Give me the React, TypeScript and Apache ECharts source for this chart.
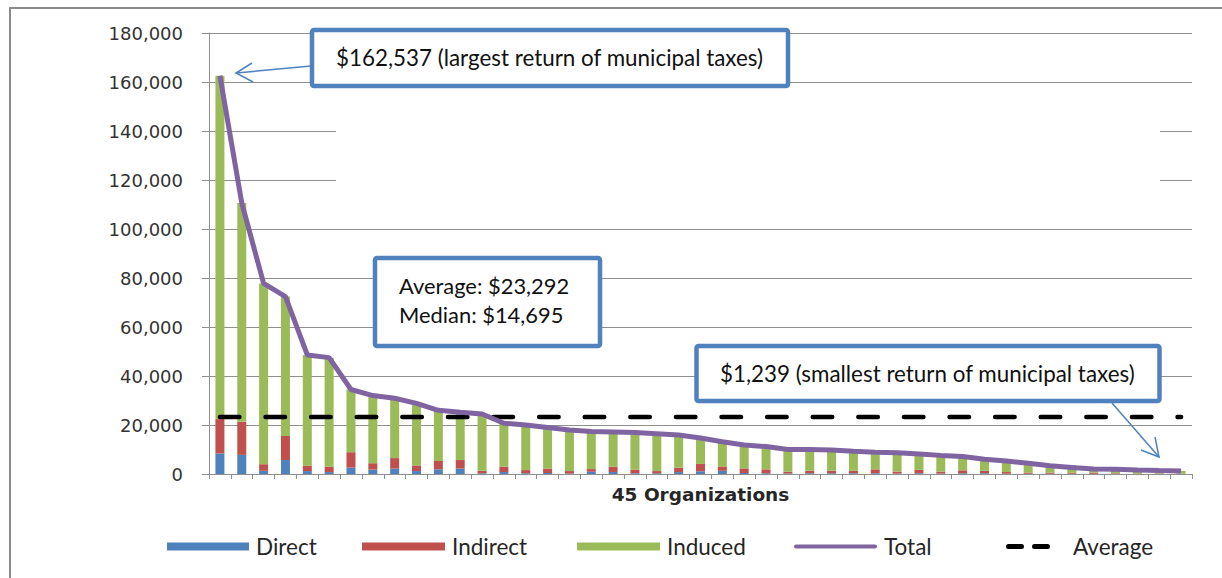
import React, { useEffect, useRef } from 'react';
import * as echarts from 'echarts';

const organizations = [
  '1', '2', '3', '4', '5', '6', '7', '8', '9', '10',
  '11', '12', '13', '14', '15', '16', '17', '18', '19', '20',
  '21', '22', '23', '24', '25', '26', '27', '28', '29', '30',
  '31', '32', '33', '34', '35', '36', '37', '38', '39', '40',
  '41', '42', '43', '44', '45',
];

const direct = [
  8400, 7800, 1300, 5700, 1200, 800, 2600, 1800, 2200, 1200,
  1900, 2200, 300, 800, 300, 400, 200, 900, 800, 300,
  300, 800, 1100, 1300, 400, 300, 200, 300, 300, 300,
  300, 200, 300, 200, 300, 300, 100, 100, 100, 100,
  100, 50, 50, 50, 30,
];

const indirect = [
  14000, 13500, 2700, 9800, 2200, 2200, 6300, 2600, 4300, 2300,
  3400, 3500, 1000, 2200, 1300, 1800, 1000, 1100, 2200, 1500,
  900, 1800, 3000, 1800, 1900, 1600, 700, 1000, 1000, 1000,
  1600, 800, 1400, 800, 1200, 1000, 700, 500, 500, 400,
  500, 250, 150, 150, 100,
];

const induced = [
  140137, 89300, 73800, 56900, 45200, 44500, 25600, 27600, 24400, 25300,
  20700, 19500, 23200, 17700, 18400, 16800, 16800, 15300, 14100, 15100,
  15200, 13300, 10595, 10100, 9500, 9300, 9100, 8700, 8500, 8000,
  7000, 7700, 6500, 6600, 5600, 4700, 4500, 3800, 2800, 2200,
  1400, 1600, 1400, 1200, 1109,
];

const total = [
  162537, 110600, 77800, 72400, 48600, 47500, 34500, 32000, 30900, 28800,
  26000, 25200, 24500, 20700, 20000, 19000, 18000, 17300, 17100, 16900,
  16400, 15900, 14695, 13200, 11800, 11200, 10000, 10000, 9800, 9300,
  8900, 8700, 8200, 7600, 7100, 6000, 5300, 4400, 3400, 2700,
  2000, 1900, 1600, 1400, 1239,
];

const AVERAGE = 23292;
const averageLine = organizations.map(() => AVERAGE);

const calloutTexts = [
  '$162,537 (largest return of municipal taxes)',
  'Average: $23,292',
  'Median: $14,695',
  '$1,239 (smallest return of municipal taxes)',
];

const BLUE = '#4F81BD';
const RED = '#C0504D';
const GREEN = '#9BBB59';
const PURPLE = '#8064A2';
const GRID_GRAY = '#8f8f8f';
const CALLOUT_FONT = 'Lato';

export default function App() {
  const ref = useRef<HTMLDivElement>(null);

  useEffect(() => {
    if (!ref.current) return;
    const chart = echarts.init(ref.current, null, { renderer: 'svg' });

    const legendText = {
      fontFamily: CALLOUT_FONT,
      fontSize: 22.5,
      color: '#262626',
      padding: [0, 0, 0, 2],
    };
    const legendBase = {
      orient: 'horizontal',
      top: 530,
      itemHeight: 8,
      selectedMode: false,
      textStyle: legendText,
    };

    const option: any = {
      animation: false,
      backgroundColor: '#ffffff',
      grid: { left: 209, right: 30, top: 33, bottom: 104, containLabel: false },
      legend: [
        { ...legendBase, left: 162, itemWidth: 82, data: [{ name: 'Direct', icon: 'rect' }] },
        { ...legendBase, left: 357, itemWidth: 83, data: [{ name: 'Indirect', icon: 'rect' }] },
        { ...legendBase, left: 572, itemWidth: 83, data: [{ name: 'Induced', icon: 'rect' }] },
        {
          ...legendBase,
          left: 789,
          itemWidth: 83,
          itemHeight: 4.5,
          data: [{ name: 'Total', icon: 'path://M2,0H81A2,2 0 0 1 81,4H2A2,2 0 0 1 2,0Z' }],
        },
        {
          ...legendBase,
          left: 1001,
          itemWidth: 44,
          itemHeight: 5,
          textStyle: { ...legendText, padding: [0, 0, 0, 18] },
          data: [
            {
              name: 'Average',
              icon: 'path://M2.5,0H15.5A2.5,2.5 0 0 1 15.5,5H2.5A2.5,2.5 0 0 1 2.5,0Z M28.5,0H41.5A2.5,2.5 0 0 1 41.5,5H28.5A2.5,2.5 0 0 1 28.5,0Z',
            },
          ],
        },
      ],
      xAxis: {
        type: 'category',
        data: organizations,
        boundaryGap: true,
        name: '45 Organizations',
        nameLocation: 'middle',
        nameGap: 11,
        nameTextStyle: {
          fontFamily: 'DejaVu Sans',
          fontWeight: 'bold',
          fontSize: 18.5,
          color: '#262626',
        },
        axisLine: { show: true, lineStyle: { color: GRID_GRAY, width: 1 } },
        axisTick: { show: true, length: 5, lineStyle: { color: GRID_GRAY } },
        axisLabel: { show: false },
        splitLine: { show: false },
      },
      yAxis: {
        type: 'value',
        min: 0,
        max: 180000,
        interval: 20000,
        axisLine: { show: true, lineStyle: { color: GRID_GRAY, width: 1 } },
        axisTick: { show: true, length: 7, lineStyle: { color: GRID_GRAY } },
        axisLabel: {
          margin: 26,
          fontFamily: 'DejaVu Sans',
          fontSize: 18,
          color: '#333333',
          formatter: (v: number) => v.toLocaleString('en-US'),
        },
        splitLine: { show: true, lineStyle: { color: GRID_GRAY, width: 1 } },
      },
      series: [
        { name: 'Direct', type: 'bar', stack: 'taxes', barWidth: 9, data: direct, itemStyle: { color: BLUE } },
        { name: 'Indirect', type: 'bar', stack: 'taxes', barWidth: 9, data: indirect, itemStyle: { color: RED } },
        { name: 'Induced', type: 'bar', stack: 'taxes', barWidth: 9, data: induced, itemStyle: { color: GREEN } },
        {
          name: 'Average',
          type: 'line',
          data: averageLine,
          symbol: 'none',
          z: 4,
          lineStyle: { color: '#000', width: 4.5, type: [19.5, 26.1], cap: 'round' },
          itemStyle: { color: '#000' },
        },
        {
          name: 'Total',
          type: 'line',
          data: total,
          symbol: 'none',
          z: 5,
          lineStyle: { color: PURPLE, width: 5 },
          itemStyle: { color: PURPLE },
        },
      ],
      graphic: {
        elements: [
          {
            type: 'rect',
            silent: true,
            z: -10,
            shape: { x: 10, y: 8, width: 1400, height: 800 },
            style: { fill: 'none', stroke: '#8a8a8a', lineWidth: 2 },
          },
          {
            type: 'rect',
            silent: true,
            z: 1,
            shape: { x: 336, y: 100, width: 824, height: 100 },
            style: { fill: '#ffffff', stroke: 'none' },
          },
          {
            type: 'rect',
            z: 100,
            shape: { x: 312, y: 30, width: 476, height: 56, r: 2 },
            style: { fill: '#ffffff', stroke: BLUE, lineWidth: 4.5 },
          },
          {
            type: 'text',
            z: 101,
            x: 336,
            y: 57.5,
            style: { text: calloutTexts[0], fontFamily: CALLOUT_FONT, fontSize: 22.4, fill: '#111', verticalAlign: 'middle' },
          },
          {
            type: 'line',
            z: 101,
            shape: { x1: 311, y1: 66, x2: 236, y2: 73 },
            style: { stroke: BLUE, lineWidth: 1.5 },
          },
          {
            type: 'polyline',
            z: 101,
            shape: { points: [[252, 63], [236, 73], [253, 82]] },
            style: { stroke: BLUE, lineWidth: 1.5, fill: 'none' },
          },
          {
            type: 'rect',
            z: 100,
            shape: { x: 375, y: 258, width: 225, height: 88, r: 2 },
            style: { fill: '#ffffff', stroke: BLUE, lineWidth: 4.5 },
          },
          {
            type: 'text',
            z: 101,
            x: 399,
            y: 285.5,
            style: { text: calloutTexts[1], fontFamily: CALLOUT_FONT, fontSize: 21.9, fill: '#111', verticalAlign: 'middle' },
          },
          {
            type: 'text',
            z: 101,
            x: 399,
            y: 314,
            style: { text: calloutTexts[2], fontFamily: CALLOUT_FONT, fontSize: 21.9, fill: '#111', verticalAlign: 'middle' },
          },
          {
            type: 'rect',
            z: 100,
            shape: { x: 696.5, y: 346, width: 463, height: 55, r: 2 },
            style: { fill: '#ffffff', stroke: BLUE, lineWidth: 4.5 },
          },
          {
            type: 'text',
            z: 101,
            x: 720,
            y: 373,
            style: { text: calloutTexts[3], fontFamily: CALLOUT_FONT, fontSize: 22.4, fill: '#111', verticalAlign: 'middle' },
          },
          {
            type: 'line',
            z: 101,
            shape: { x1: 1112, y1: 403, x2: 1159, y2: 457 },
            style: { stroke: BLUE, lineWidth: 1.5 },
          },
          {
            type: 'polyline',
            z: 101,
            shape: { points: [[1141, 450], [1159, 457], [1155, 437]] },
            style: { stroke: BLUE, lineWidth: 1.5, fill: 'none' },
          },
        ],
      },
    };

    chart.setOption(option);
    return () => chart.dispose();
  }, []);

  return (
    <div
      ref={ref}
      style={{ position: 'fixed', left: 0, top: 0, width: 1222, height: 578, background: '#fff' }}
    />
  );
}
